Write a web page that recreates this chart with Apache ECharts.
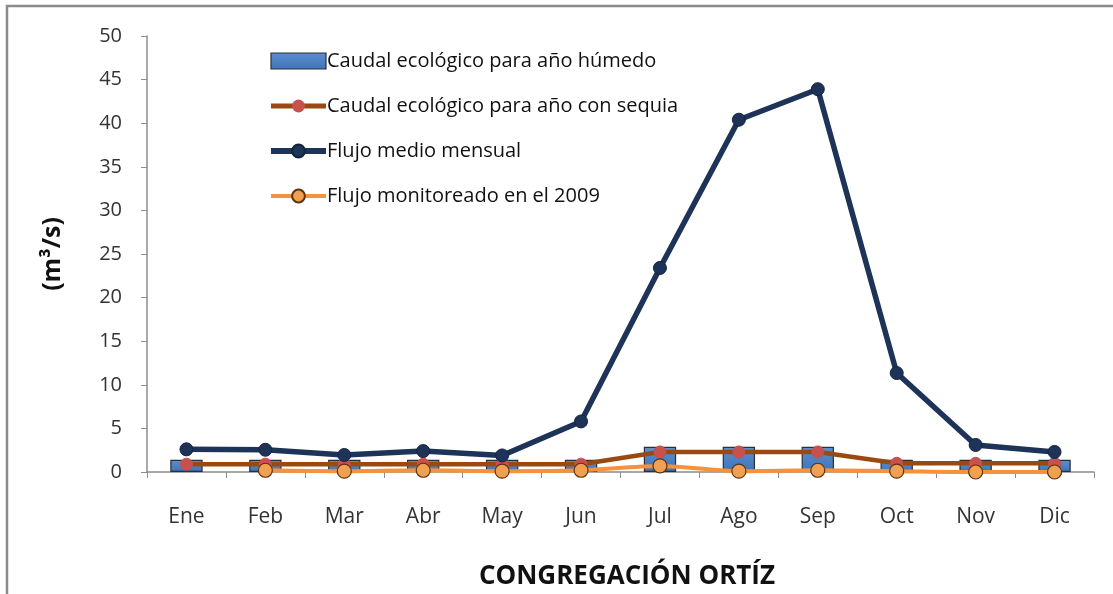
<!DOCTYPE html>
<html>
<head>
<meta charset="utf-8">
<script src="https://cdn.jsdelivr.net/npm/echarts@6/dist/echarts.min.js"></script>
<style>
  html, body { margin: 0; padding: 0; background: #ffffff; }
  #chart { width: 1113px; height: 594px; }
</style>
</head>
<body>
<div id="chart"></div>
<script>
// Months (Spanish abbreviations)
const months = ['Ene', 'Feb', 'Mar', 'Abr', 'May', 'Jun', 'Jul', 'Ago', 'Sep', 'Oct', 'Nov', 'Dic'];

// Flows in m³/s
const caudalHumedo  = [1.4, 1.4, 1.4, 1.4, 1.4, 1.4, 2.9, 2.9, 2.9, 1.4, 1.4, 1.4];
const caudalSequia  = [0.9, 0.9, 0.9, 0.9, 0.9, 0.9, 2.3, 2.3, 2.3, 1.0, 1.0, 1.0];
const flujoMedio    = [2.6, 2.55, 1.95, 2.4, 1.9, 5.8, 23.4, 40.4, 43.9, 11.35, 3.1, 2.3];
const flujo2009     = [null, 0.2, 0.1, 0.2, 0.1, 0.2, 0.7, 0.1, 0.2, 0.1, 0.0, 0.0];

const yTicks = { min: 0, max: 50, interval: 5 };

const seriesNames = [
  'Caudal ecológico para año húmedo',
  'Caudal ecológico para año con sequia',
  'Flujo medio mensual',
  'Flujo monitoreado en el 2009'
];

const FONT = '"Open Sans", "DejaVu Sans", sans-serif';

const chart = echarts.init(document.getElementById('chart'));
chart.setOption({
  backgroundColor: '#ffffff',
  animation: false,
  textStyle: { fontFamily: FONT },
  graphic: [{
    type: 'rect',
    shape: { x: 7, y: 6, width: 1120, height: 600 },
    style: { fill: 'none', stroke: '#8a8a8a', lineWidth: 2.5 },
    silent: true
  }],
  title: {
    text: 'CONGREGACIÓN ORTÍZ',
    left: 622, top: 559, textAlign: 'center',
    textStyle: { fontFamily: FONT, fontSize: 26, fontWeight: 'bold', color: '#111' }
  },
  legend: {
    orient: 'vertical',
    left: 263, top: 46,
    itemGap: 25,
    itemWidth: 55, itemHeight: 16,
    textStyle: { fontFamily: FONT, fontSize: 20, color: '#111', padding: [0, 0, 0, -4] },
    data: [
      { name: seriesNames[0], icon: 'rect', itemStyle: { borderColor: '#2b2f3a', borderWidth: 1.2 } },
      { name: seriesNames[1], lineStyle: { width: 5 } },
      { name: seriesNames[2], lineStyle: { width: 6 } },
      { name: seriesNames[3], lineStyle: { width: 4 } }
    ]
  },
  grid: { left: 147, right: 19, top: 36, bottom: 122 },
  xAxis: {
    type: 'category',
    data: months,
    boundaryGap: true,
    axisLine: { lineStyle: { color: '#8c8c8c', width: 1.5 } },
    axisTick: { show: true, length: 6, lineStyle: { color: '#8c8c8c' } },
    axisLabel: { fontFamily: FONT, fontSize: 21, color: '#333', margin: 35 }
  },
  yAxis: {
    type: 'value',
    min: yTicks.min, max: yTicks.max, interval: yTicks.interval,
    name: '(m³/s)',
    nameLocation: 'middle',
    nameGap: 82,
    nameRotate: 90,
    nameTextStyle: { fontFamily: FONT, fontSize: 25, fontWeight: 'bold', color: '#111' },
    axisLine: { show: true, lineStyle: { color: '#8c8c8c', width: 1.5 } },
    axisTick: { show: true, inside: false, length: 6, lineStyle: { color: '#8c8c8c' } },
    splitLine: { show: false },
    axisLabel: { fontFamily: FONT, fontSize: 20, color: '#333', margin: 25 }
  },
  series: [
    {
      name: seriesNames[0],
      type: 'bar',
      data: caudalHumedo,
      barWidth: '41%',
      itemStyle: {
        color: new echarts.graphic.LinearGradient(0, 0, 0, 1, [
          { offset: 0, color: '#5b8fd0' },
          { offset: 1, color: '#3f74b8' }
        ]),
        borderColor: '#2b2f3a',
        borderWidth: 1.2
      },
      z: 1
    },
    {
      name: seriesNames[1],
      type: 'line',
      data: caudalSequia,
      symbol: 'circle',
      symbolSize: 12,
      lineStyle: { color: '#9a4a10', width: 4.5 },
      itemStyle: { color: '#c8504d', borderColor: '#c8504d' },
      z: 3
    },
    {
      name: seriesNames[2],
      type: 'line',
      data: flujoMedio,
      symbol: 'circle',
      symbolSize: 13,
      lineStyle: { color: '#1d3458', width: 5.5 },
      itemStyle: { color: '#1d3458', borderColor: '#14233d', borderWidth: 1 },
      z: 4
    },
    {
      name: seriesNames[3],
      type: 'line',
      data: flujo2009,
      smooth: 0.3,
      symbol: 'circle',
      symbolSize: 14,
      lineStyle: { color: '#f6923c', width: 4 },
      itemStyle: { color: '#f0a050', borderColor: '#5a3413', borderWidth: 1.2 },
      z: 5
    }
  ]
});
</script>
</body>
</html>
